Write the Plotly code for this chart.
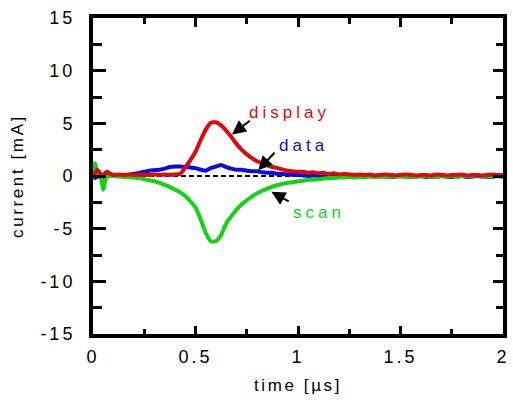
import plotly.graph_objects as go

# Sample times [µs]: dense at the start, then every 25 ns
t_us = [0, 0.005, 0.01, 0.02, 0.03, 0.04, 0.05, 0.06, 0.07, 0.085] + \
       [round(0.1 + 0.025 * i, 3) for i in range(77)]

# Measured currents [mA]
display_ma = [0.0, 0.1, 0.3, 0.6, 0.4, 0.1, 0.0, 0.3, 0.4, 0.2,
              0.1, 0.15, 0.1, 0.15, 0.1, 0.1, 0.15, 0.1, 0.15, 0.1,
              0.15, 0.1, 0.15, 0.2, 0.8, 1.5, 2.3, 3.4, 4.4, 5.05,
              5.1, 4.8, 4.3, 3.7, 3.05, 2.5, 2.05, 1.7, 1.4, 1.2,
              1.0, 0.85, 0.75, 0.6, 0.5, 0.45, 0.4,
              0.4, 0.3, 0.35, 0.25, 0.3, 0.2, 0.25, 0.15, 0.2, 0.15,
              0.1, 0.15, 0.1, 0.15, 0.05, 0.1, 0.15, 0.1, 0.05, 0.1,
              0.15, 0.1, 0.05, 0.1, 0.1, 0.05, 0.15, 0.1, 0.05, 0.1,
              0.1, 0.15, 0.05, 0.1, 0.1, 0.05, 0.1, 0.15, 0.1, 0.1]

data_ma = [-0.2, -0.1, -0.2, 0.0, -0.1, 0.0, -0.1, 0.0, 0.0, 0.05,
           0.0, 0.05, 0.05, 0.1, 0.2, 0.3, 0.4, 0.5, 0.55, 0.6,
           0.7, 0.85, 0.9, 0.9, 0.85, 0.8, 0.75, 0.6, 0.5, 0.75,
           0.9, 1.05, 0.85, 0.7, 0.6, 0.6, 0.5, 0.45, 0.45, 0.35,
           0.3, 0.3, 0.2, 0.2, 0.15, 0.1, 0.1,
           0.05, 0.0, 0.05, 0.0, -0.05, 0.0, 0.0, -0.05, 0.0, -0.05,
           0.0, -0.05, -0.1, 0.0, -0.05, -0.05, 0.0, -0.1, -0.05, 0.0,
           -0.05, -0.1, -0.05, 0.0, -0.1, -0.05, -0.1, 0.0, -0.05, -0.1,
           -0.05, 0.0, -0.1, -0.05, 0.0, -0.05, -0.1, -0.05, 0.0, -0.05]

scan_ma = [0.2, 1.0, 1.2, 0.3, 0.1, -0.3, -1.3, -0.4, 0.0, 0.0,
           0.0, -0.05, -0.1, -0.1, -0.15, -0.2, -0.3, -0.4, -0.5, -0.65,
           -0.85, -1.05, -1.3, -1.55, -1.9, -2.4, -3.0, -4.1, -5.4, -6.2,
           -6.2, -5.6, -4.5, -3.8, -3.2, -2.7, -2.3, -1.95, -1.65, -1.4,
           -1.2, -1.0, -0.85, -0.75, -0.65, -0.6, -0.5,
           -0.45, -0.35, -0.35, -0.3, -0.25, -0.2, -0.2, -0.15, -0.15, -0.1,
           -0.15, -0.1, -0.1, -0.05, -0.1, -0.05, -0.1, -0.05, 0.0, -0.05,
           -0.1, -0.05, 0.0, -0.05, 0.0, -0.05, -0.1, 0.0, -0.05, 0.0,
           -0.05, 0.0, -0.05, 0.0, 0.05, 0.0, -0.05, 0.0, 0.0, -0.05]

x_ticks = [0, 0.5, 1, 1.5, 2]
x_tick_text = ["0", "0.5", "1", "1.5", "2"]
y_ticks = [-15, -10, -5, 0, 5, 10, 15]
y_tick_text = ["-15", "-10", "-5", "0", "5", "10", "15"]
x_range = [0, 2]
y_range = [-15, 15]

RED = "#e00808"
BLUE = "#0c0ce0"
GREEN = "#12d412"
FONT = "Liberation Sans, Arial, sans-serif"

fig = go.Figure()

# dashed zero reference
fig.add_trace(go.Scatter(x=x_range, y=[0, 0], mode="lines",
                         line=dict(color="black", width=2, dash="5px,3px"),
                         hoverinfo="skip"))
curve_line = dict(width=4, shape="spline", smoothing=0.5)
fig.add_trace(go.Scatter(x=t_us, y=data_ma, mode="lines", name="data",
                         line=dict(color=BLUE, **curve_line)))
fig.add_trace(go.Scatter(x=t_us, y=scan_ma, mode="lines", name="scan",
                         line=dict(color=GREEN, **curve_line)))
fig.add_trace(go.Scatter(x=t_us, y=display_ma, mode="lines", name="display",
                         line=dict(color=RED, **curve_line)))
# transparent carrier so the mirrored top/right frame axes get drawn
fig.add_trace(go.Scatter(x=x_range, y=y_range, mode="lines", xaxis="x2",
                         yaxis="y2", opacity=0, hoverinfo="skip",
                         line=dict(width=0)))

common_x = dict(range=x_range, showgrid=False, zeroline=False, showline=True,
                linecolor="black", linewidth=4, ticks="inside",
                tickcolor="black", tickwidth=3)
common_y = dict(range=y_range, showgrid=False, zeroline=False, showline=True,
                linecolor="black", linewidth=4, ticks="inside",
                tickcolor="black", tickwidth=3)

fig.update_layout(
    width=513, height=403,
    margin=dict(l=93, r=5, t=18, b=69),
    paper_bgcolor="white", plot_bgcolor="white",
    showlegend=False,
    font=dict(family=FONT, size=18, color="black"),
    xaxis=dict(**common_x, side="bottom", anchor="y",
               tickvals=x_ticks, ticktext=x_tick_text, ticklen=8,
               minor=dict(dtick=0.25, ticks="inside", ticklen=5,
                          tickwidth=3, tickcolor="black"),
               ticklabelstandoff=3, ticklabeloverflow="allow",
               title=dict(text="time [µs]", standoff=15,
                          font=dict(size=17))),
    xaxis2=dict(**common_x, side="top", anchor="y2", overlaying="x",
                tickvals=x_ticks, showticklabels=False, ticklen=9,
                minor=dict(dtick=0.25, ticks="inside", ticklen=6,
                           tickwidth=3, tickcolor="black")),
    yaxis=dict(**common_y, side="left", anchor="x",
               tickvals=y_ticks, ticktext=y_tick_text, ticklen=13,
               minor=dict(dtick=2.5, ticks="inside", ticklen=9,
                          tickwidth=3, tickcolor="black"),
               ticklabelstandoff=10,
               title=dict(text="current [mA]", standoff=22,
                          font=dict(size=17))),
    yaxis2=dict(**common_y, side="right", anchor="x2", overlaying="y",
                tickvals=y_ticks, showticklabels=False, ticklen=10,
                minor=dict(dtick=2.5, ticks="inside", ticklen=7,
                           tickwidth=3, tickcolor="black")),
)

# curve labels and pointer arrows
labels = [("display", 0.958, 6.0, RED, 0.678, 3.95, 0.772, 5.35),
          ("data", 1.03, 2.9, BLUE, 0.806, 0.55, 0.892, 2.35),
          ("scan", 1.103, -3.5, GREEN, 0.870, -1.5, 0.962, -2.5)]
for text, tx, ty, color, hx, hy, ax_, ay_ in labels:
    fig.add_annotation(x=tx, y=ty, xref="x", yref="y", text=text,
                       showarrow=False, font=dict(size=17, color=color))
    fig.add_annotation(x=hx, y=hy, xref="x", yref="y", ax=ax_, ay=ay_,
                       axref="x", ayref="y", text="", showarrow=True,
                       arrowhead=2, arrowsize=1.4, arrowwidth=2,
                       arrowcolor="black")

# wide letter spacing for all chart text
spacing_js = """
var gd = document.getElementById('{plot_id}');
function spreadText() {
  gd.querySelectorAll('.xtick text, .ytick text').forEach(function (el) {
    el.style.letterSpacing = '3px';
  });
  gd.querySelectorAll('.g-xtitle text, .g-ytitle text').forEach(function (el) {
    el.style.letterSpacing = '2.6px';
  });
  gd.querySelectorAll('.annotation-text').forEach(function (el) {
    el.style.letterSpacing = '4px';
  });
}
spreadText();
gd.on('plotly_afterplot', spreadText);
"""

fig.write_html("out.html", post_script=spacing_js)
